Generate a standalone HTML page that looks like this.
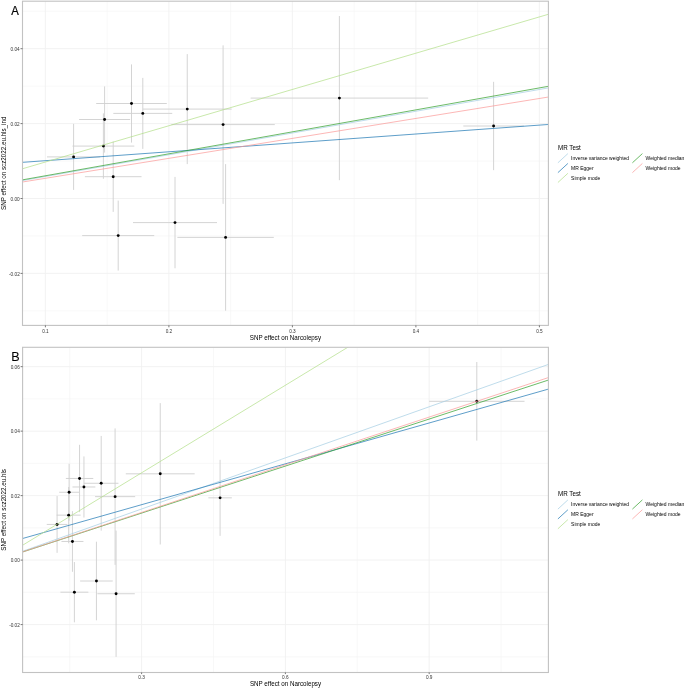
<!DOCTYPE html><html><head><meta charset="utf-8"><style>html,body{margin:0;padding:0;background:#fff}svg{display:block;will-change:transform}</style></head><body><svg width="685" height="688" viewBox="0 0 685 688">
<style>.gm{stroke:#f4f4f4;stroke-width:0.6}.gM{stroke:#f0f0f0;stroke-width:0.9}.eb{stroke:#cfcfcf;stroke-width:0.9}.ln{stroke-width:0.9;fill:none;stroke-opacity:0.8}.bd{fill:none;stroke:#c2c2c2;stroke-width:1.1}.tk{stroke:#555;stroke-width:0.8}.tl{font-family:"Liberation Sans",sans-serif;font-size:4.7px;fill:#333}.at{font-family:"Liberation Sans",sans-serif;font-size:6.25px;fill:#000}.lt{font-family:"Liberation Sans",sans-serif;font-size:6.3px;fill:#000}.ll{font-family:"Liberation Sans",sans-serif;font-size:5.0px;fill:#000}.tag{font-family:"Liberation Sans",sans-serif;font-size:12.6px;fill:#000;stroke:#000;stroke-width:0.2px}</style>
<rect width="685" height="688" fill="#fff"/>
<clipPath id="cA"><rect x="22.5" y="1.2" width="525.90" height="324.20"/></clipPath>
<line x1="22.5" x2="548.4" y1="310.85" y2="310.85" class="gm"/>
<line x1="22.5" x2="548.4" y1="235.95" y2="235.95" class="gm"/>
<line x1="22.5" x2="548.4" y1="161.05" y2="161.05" class="gm"/>
<line x1="22.5" x2="548.4" y1="86.15" y2="86.15" class="gm"/>
<line x1="22.5" x2="548.4" y1="11.25" y2="11.25" class="gm"/>
<line x1="107.15" x2="107.15" y1="1.2" y2="325.4" class="gm"/>
<line x1="230.65" x2="230.65" y1="1.2" y2="325.4" class="gm"/>
<line x1="354.15" x2="354.15" y1="1.2" y2="325.4" class="gm"/>
<line x1="477.65" x2="477.65" y1="1.2" y2="325.4" class="gm"/>
<line x1="22.5" x2="548.4" y1="273.40" y2="273.40" class="gM"/>
<line x1="22.5" x2="548.4" y1="198.50" y2="198.50" class="gM"/>
<line x1="22.5" x2="548.4" y1="123.60" y2="123.60" class="gM"/>
<line x1="22.5" x2="548.4" y1="48.70" y2="48.70" class="gM"/>
<line x1="45.40" x2="45.40" y1="1.2" y2="325.4" class="gM"/>
<line x1="168.90" x2="168.90" y1="1.2" y2="325.4" class="gM"/>
<line x1="292.40" x2="292.40" y1="1.2" y2="325.4" class="gM"/>
<line x1="415.90" x2="415.90" y1="1.2" y2="325.4" class="gM"/>
<line x1="539.40" x2="539.40" y1="1.2" y2="325.4" class="gM"/>
<g clip-path="url(#cA)">
<line x1="73.60" x2="73.60" y1="123.90" y2="189.90" class="eb"/>
<line x1="47.00" x2="100.20" y1="156.90" y2="156.90" class="eb"/>
<line x1="104.60" x2="104.60" y1="86.40" y2="152.60" class="eb"/>
<line x1="79.10" x2="130.10" y1="119.50" y2="119.50" class="eb"/>
<line x1="103.40" x2="103.40" y1="113.40" y2="178.80" class="eb"/>
<line x1="72.50" x2="134.30" y1="146.10" y2="146.10" class="eb"/>
<line x1="131.50" x2="131.50" y1="64.40" y2="142.60" class="eb"/>
<line x1="96.20" x2="166.80" y1="103.50" y2="103.50" class="eb"/>
<line x1="142.80" x2="142.80" y1="77.90" y2="148.90" class="eb"/>
<line x1="113.35" x2="172.25" y1="113.40" y2="113.40" class="eb"/>
<line x1="187.25" x2="187.25" y1="54.10" y2="164.10" class="eb"/>
<line x1="142.80" x2="231.70" y1="109.10" y2="109.10" class="eb"/>
<line x1="113.20" x2="113.20" y1="141.50" y2="211.90" class="eb"/>
<line x1="84.90" x2="141.50" y1="176.70" y2="176.70" class="eb"/>
<line x1="118.20" x2="118.20" y1="200.60" y2="270.60" class="eb"/>
<line x1="82.20" x2="154.20" y1="235.60" y2="235.60" class="eb"/>
<line x1="175.00" x2="175.00" y1="176.95" y2="268.25" class="eb"/>
<line x1="133.00" x2="217.00" y1="222.60" y2="222.60" class="eb"/>
<line x1="223.10" x2="223.10" y1="45.35" y2="203.85" class="eb"/>
<line x1="171.40" x2="274.80" y1="124.60" y2="124.60" class="eb"/>
<line x1="225.60" x2="225.60" y1="164.10" y2="310.70" class="eb"/>
<line x1="177.40" x2="273.80" y1="237.40" y2="237.40" class="eb"/>
<line x1="339.40" x2="339.40" y1="16.00" y2="180.20" class="eb"/>
<line x1="250.65" x2="428.15" y1="98.10" y2="98.10" class="eb"/>
<line x1="493.60" x2="493.60" y1="81.85" y2="170.15" class="eb"/>
<line x1="463.30" x2="523.90" y1="126.00" y2="126.00" class="eb"/>
<circle cx="73.60" cy="156.90" r="1.45" fill="#000"/>
<circle cx="104.60" cy="119.50" r="1.45" fill="#000"/>
<circle cx="103.40" cy="146.10" r="1.45" fill="#000"/>
<circle cx="131.50" cy="103.50" r="1.45" fill="#000"/>
<circle cx="142.80" cy="113.40" r="1.45" fill="#000"/>
<circle cx="187.25" cy="109.10" r="1.45" fill="#000"/>
<circle cx="113.20" cy="176.70" r="1.45" fill="#000"/>
<circle cx="118.20" cy="235.60" r="1.45" fill="#000"/>
<circle cx="175.00" cy="222.60" r="1.45" fill="#000"/>
<circle cx="223.10" cy="124.60" r="1.45" fill="#000"/>
<circle cx="225.60" cy="237.40" r="1.45" fill="#000"/>
<circle cx="339.40" cy="98.10" r="1.45" fill="#000"/>
<circle cx="493.60" cy="126.00" r="1.45" fill="#000"/>
<line x1="22.50" y1="180.55" x2="548.40" y2="87.90" stroke="#a6cee3" class="ln"/>
<line x1="22.50" y1="162.33" x2="548.40" y2="124.47" stroke="#1f78b4" class="ln"/>
<line x1="22.50" y1="168.75" x2="548.40" y2="14.28" stroke="#b2df8a" class="ln"/>
<line x1="22.50" y1="179.85" x2="548.40" y2="86.30" stroke="#33a02c" class="ln"/>
<line x1="22.50" y1="182.00" x2="548.40" y2="97.03" stroke="#fb9a99" class="ln"/>
</g>
<rect x="22.5" y="1.2" width="525.90" height="324.20" class="bd"/>
<line x1="45.40" x2="45.40" y1="325.4" y2="327.30" class="tk"/>
<text x="45.40" y="332.70" class="tl" text-anchor="middle">0.1</text>
<line x1="168.90" x2="168.90" y1="325.4" y2="327.30" class="tk"/>
<text x="168.90" y="332.70" class="tl" text-anchor="middle">0.2</text>
<line x1="292.40" x2="292.40" y1="325.4" y2="327.30" class="tk"/>
<text x="292.40" y="332.70" class="tl" text-anchor="middle">0.3</text>
<line x1="415.90" x2="415.90" y1="325.4" y2="327.30" class="tk"/>
<text x="415.90" y="332.70" class="tl" text-anchor="middle">0.4</text>
<line x1="539.40" x2="539.40" y1="325.4" y2="327.30" class="tk"/>
<text x="539.40" y="332.70" class="tl" text-anchor="middle">0.5</text>
<line x1="20.50" x2="22.5" y1="273.40" y2="273.40" class="tk"/>
<text transform="translate(19.75,275.55) scale(1,1.1)" class="tl" text-anchor="end">-0.02</text>
<line x1="20.50" x2="22.5" y1="198.50" y2="198.50" class="tk"/>
<text transform="translate(19.75,200.65) scale(1,1.1)" class="tl" text-anchor="end">0.00</text>
<line x1="20.50" x2="22.5" y1="123.60" y2="123.60" class="tk"/>
<text transform="translate(19.75,125.75) scale(1,1.1)" class="tl" text-anchor="end">0.02</text>
<line x1="20.50" x2="22.5" y1="48.70" y2="48.70" class="tk"/>
<text transform="translate(19.75,50.85) scale(1,1.1)" class="tl" text-anchor="end">0.04</text>
<clipPath id="cB"><rect x="22.6" y="347.3" width="525.80" height="325.20"/></clipPath>
<line x1="22.6" x2="548.4" y1="656.82" y2="656.82" class="gm"/>
<line x1="22.6" x2="548.4" y1="592.34" y2="592.34" class="gm"/>
<line x1="22.6" x2="548.4" y1="527.86" y2="527.86" class="gm"/>
<line x1="22.6" x2="548.4" y1="463.38" y2="463.38" class="gm"/>
<line x1="22.6" x2="548.4" y1="398.90" y2="398.90" class="gm"/>
<line x1="69.70" x2="69.70" y1="347.3" y2="672.5" class="gm"/>
<line x1="213.50" x2="213.50" y1="347.3" y2="672.5" class="gm"/>
<line x1="357.28" x2="357.28" y1="347.3" y2="672.5" class="gm"/>
<line x1="501.08" x2="501.08" y1="347.3" y2="672.5" class="gm"/>
<line x1="22.6" x2="548.4" y1="624.58" y2="624.58" class="gM"/>
<line x1="22.6" x2="548.4" y1="560.10" y2="560.10" class="gM"/>
<line x1="22.6" x2="548.4" y1="495.62" y2="495.62" class="gM"/>
<line x1="22.6" x2="548.4" y1="431.14" y2="431.14" class="gM"/>
<line x1="22.6" x2="548.4" y1="366.66" y2="366.66" class="gM"/>
<line x1="141.60" x2="141.60" y1="347.3" y2="672.5" class="gM"/>
<line x1="285.39" x2="285.39" y1="347.3" y2="672.5" class="gM"/>
<line x1="429.18" x2="429.18" y1="347.3" y2="672.5" class="gM"/>
<g clip-path="url(#cB)">
<line x1="57.08" x2="57.08" y1="496.03" y2="552.85" class="eb"/>
<line x1="46.76" x2="67.41" y1="524.44" y2="524.44" class="eb"/>
<line x1="69.12" x2="69.12" y1="463.75" y2="520.74" class="eb"/>
<line x1="59.22" x2="79.01" y1="492.24" y2="492.24" class="eb"/>
<line x1="68.65" x2="68.65" y1="486.99" y2="543.29" class="eb"/>
<line x1="56.66" x2="80.64" y1="515.14" y2="515.14" class="eb"/>
<line x1="79.56" x2="79.56" y1="444.81" y2="512.13" class="eb"/>
<line x1="65.86" x2="93.25" y1="478.47" y2="478.47" class="eb"/>
<line x1="83.94" x2="83.94" y1="456.43" y2="517.55" class="eb"/>
<line x1="72.51" x2="95.37" y1="486.99" y2="486.99" class="eb"/>
<line x1="101.19" x2="101.19" y1="435.94" y2="530.64" class="eb"/>
<line x1="83.94" x2="118.44" y1="483.29" y2="483.29" class="eb"/>
<line x1="72.45" x2="72.45" y1="511.18" y2="571.79" class="eb"/>
<line x1="61.47" x2="83.44" y1="541.48" y2="541.48" class="eb"/>
<line x1="74.39" x2="74.39" y1="562.06" y2="622.32" class="eb"/>
<line x1="60.42" x2="88.36" y1="592.19" y2="592.19" class="eb"/>
<line x1="96.44" x2="96.44" y1="541.70" y2="620.30" class="eb"/>
<line x1="80.14" x2="112.74" y1="581.00" y2="581.00" class="eb"/>
<line x1="115.10" x2="115.10" y1="428.41" y2="564.86" class="eb"/>
<line x1="95.04" x2="135.17" y1="496.63" y2="496.63" class="eb"/>
<line x1="116.08" x2="116.08" y1="530.64" y2="656.84" class="eb"/>
<line x1="97.37" x2="134.78" y1="593.74" y2="593.74" class="eb"/>
<line x1="160.24" x2="160.24" y1="403.14" y2="544.50" class="eb"/>
<line x1="125.80" x2="194.68" y1="473.82" y2="473.82" class="eb"/>
<line x1="220.09" x2="220.09" y1="459.83" y2="535.84" class="eb"/>
<line x1="208.33" x2="231.84" y1="497.84" y2="497.84" class="eb"/>
<line x1="476.80" x2="476.80" y1="362.00" y2="440.60" class="eb"/>
<line x1="429.10" x2="524.50" y1="401.30" y2="401.30" class="eb"/>
<circle cx="57.08" cy="524.44" r="1.45" fill="#000"/>
<circle cx="69.12" cy="492.24" r="1.45" fill="#000"/>
<circle cx="68.65" cy="515.14" r="1.45" fill="#000"/>
<circle cx="79.56" cy="478.47" r="1.45" fill="#000"/>
<circle cx="83.94" cy="486.99" r="1.45" fill="#000"/>
<circle cx="101.19" cy="483.29" r="1.45" fill="#000"/>
<circle cx="72.45" cy="541.48" r="1.45" fill="#000"/>
<circle cx="74.39" cy="592.19" r="1.45" fill="#000"/>
<circle cx="96.44" cy="581.00" r="1.45" fill="#000"/>
<circle cx="115.10" cy="496.63" r="1.45" fill="#000"/>
<circle cx="116.08" cy="593.74" r="1.45" fill="#000"/>
<circle cx="160.24" cy="473.82" r="1.45" fill="#000"/>
<circle cx="220.09" cy="497.84" r="1.45" fill="#000"/>
<circle cx="476.80" cy="401.30" r="1.45" fill="#000"/>
<line x1="22.60" y1="551.29" x2="548.40" y2="364.42" stroke="#a6cee3" class="ln"/>
<line x1="22.60" y1="538.50" x2="548.40" y2="389.10" stroke="#1f78b4" class="ln"/>
<line x1="22.60" y1="545.24" x2="548.40" y2="225.14" stroke="#b2df8a" class="ln"/>
<line x1="22.60" y1="551.99" x2="548.40" y2="380.07" stroke="#33a02c" class="ln"/>
<line x1="22.60" y1="551.88" x2="548.40" y2="377.57" stroke="#fb9a99" class="ln"/>
</g>
<rect x="22.6" y="347.3" width="525.80" height="325.20" class="bd"/>
<line x1="141.60" x2="141.60" y1="672.5" y2="674.10" class="tk"/>
<text x="141.60" y="678.60" class="tl" text-anchor="middle">0.3</text>
<line x1="285.39" x2="285.39" y1="672.5" y2="674.10" class="tk"/>
<text x="285.39" y="678.60" class="tl" text-anchor="middle">0.6</text>
<line x1="429.18" x2="429.18" y1="672.5" y2="674.10" class="tk"/>
<text x="429.18" y="678.60" class="tl" text-anchor="middle">0.9</text>
<line x1="20.60" x2="22.6" y1="624.58" y2="624.58" class="tk"/>
<text transform="translate(19.85,626.73) scale(1,1.1)" class="tl" text-anchor="end">-0.02</text>
<line x1="20.60" x2="22.6" y1="560.10" y2="560.10" class="tk"/>
<text transform="translate(19.85,562.25) scale(1,1.1)" class="tl" text-anchor="end">0.00</text>
<line x1="20.60" x2="22.6" y1="495.62" y2="495.62" class="tk"/>
<text transform="translate(19.85,497.77) scale(1,1.1)" class="tl" text-anchor="end">0.02</text>
<line x1="20.60" x2="22.6" y1="431.14" y2="431.14" class="tk"/>
<text transform="translate(19.85,433.29) scale(1,1.1)" class="tl" text-anchor="end">0.04</text>
<line x1="20.60" x2="22.6" y1="366.66" y2="366.66" class="tk"/>
<text transform="translate(19.85,368.81) scale(1,1.1)" class="tl" text-anchor="end">0.06</text>
<text transform="translate(285.45,339.95) scale(1,1.25)" class="at" text-anchor="middle">SNP effect on Narcolepsy</text>
<text transform="translate(5.85,163.30) rotate(-90) scale(1,1.25)" class="at" text-anchor="middle">SNP effect on scz2022.eu.hls_ind</text>
<text transform="translate(557.9,149.60) scale(1,1.05)" class="lt">MR Test</text>
<line x1="557.90" y1="162.80" x2="567.90" y2="153.60" stroke="#a6cee3" class="ln"/>
<text transform="translate(571.10,159.95) scale(1,1.12)" class="ll">Inverse variance weighted</text>
<line x1="557.90" y1="172.65" x2="567.90" y2="163.45" stroke="#1f78b4" class="ln"/>
<text transform="translate(571.10,169.80) scale(1,1.12)" class="ll">MR Egger</text>
<line x1="557.90" y1="182.50" x2="567.90" y2="173.30" stroke="#b2df8a" class="ln"/>
<text transform="translate(571.10,179.65) scale(1,1.12)" class="ll">Simple mode</text>
<line x1="632.40" y1="162.80" x2="642.40" y2="153.60" stroke="#33a02c" class="ln"/>
<text transform="translate(645.60,159.95) scale(1,1.12)" class="ll">Weighted median</text>
<line x1="632.40" y1="172.65" x2="642.40" y2="163.45" stroke="#fb9a99" class="ln"/>
<text transform="translate(645.60,169.80) scale(1,1.12)" class="ll">Weighted mode</text>
<text transform="translate(285.50,686.25) scale(1,1.25)" class="at" text-anchor="middle">SNP effect on Narcolepsy</text>
<text transform="translate(5.85,509.90) rotate(-90) scale(1,1.25)" class="at" text-anchor="middle">SNP effect on scz2022.eu.hls</text>
<text transform="translate(557.9,495.90) scale(1,1.05)" class="lt">MR Test</text>
<line x1="557.90" y1="509.10" x2="567.90" y2="499.90" stroke="#a6cee3" class="ln"/>
<text transform="translate(571.10,506.25) scale(1,1.12)" class="ll">Inverse variance weighted</text>
<line x1="557.90" y1="518.95" x2="567.90" y2="509.75" stroke="#1f78b4" class="ln"/>
<text transform="translate(571.10,516.10) scale(1,1.12)" class="ll">MR Egger</text>
<line x1="557.90" y1="528.80" x2="567.90" y2="519.60" stroke="#b2df8a" class="ln"/>
<text transform="translate(571.10,525.95) scale(1,1.12)" class="ll">Simple mode</text>
<line x1="632.40" y1="509.10" x2="642.40" y2="499.90" stroke="#33a02c" class="ln"/>
<text transform="translate(645.60,506.25) scale(1,1.12)" class="ll">Weighted median</text>
<line x1="632.40" y1="518.95" x2="642.40" y2="509.75" stroke="#fb9a99" class="ln"/>
<text transform="translate(645.60,516.10) scale(1,1.12)" class="ll">Weighted mode</text>
<text transform="translate(15.05,15.0) scale(0.9,1.07)" class="tag" text-anchor="middle">A</text>
<text x="11.2" y="360.6" class="tag" style="stroke-width:0.05px">B</text>
</svg></body></html>
